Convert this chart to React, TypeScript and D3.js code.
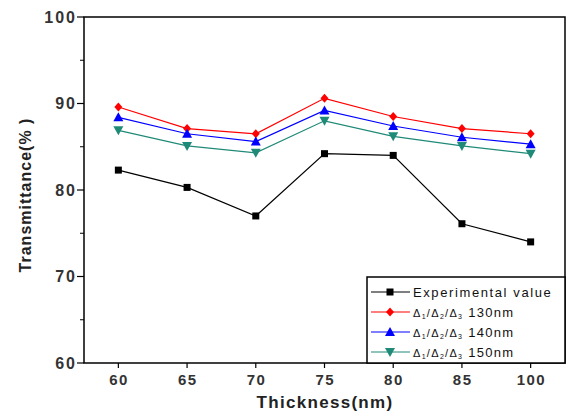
import React from "react";
import * as d3 from "d3";

const categories = ["60", "65", "70", "75", "80", "85", "100"];
const experimental = [82.3, 80.3, 77.0, 84.2, 84.0, 76.1, 74.0];
const d130 = [89.6, 87.1, 86.5, 90.6, 88.5, 87.1, 86.5];
const d140 = [88.4, 86.5, 85.6, 89.2, 87.4, 86.1, 85.3];
const d150 = [86.9, 85.1, 84.3, 88.0, 86.2, 85.1, 84.2];
const yTicks = [60, 70, 80, 90, 100];
const yMinor = [65, 75, 85, 95];

type S = { name: string; sub: string; values: number[]; color: string; marker: string };
const series: S[] = [
  { name: "Experimental value", sub: "", values: experimental, color: "#000000", marker: "square" },
  { name: "130nm", sub: "d", values: d130, color: "#ff0000", marker: "diamond" },
  { name: "140nm", sub: "d", values: d140, color: "#0000ff", marker: "triangle" },
  { name: "150nm", sub: "d", values: d150, color: "#1f8a78", marker: "down" },
];

const W = 571, H = 416;
const L = 84, R = 565, T = 17, B = 363;

function Marker({ type, x, y, color }: { type: string; x: number; y: number; color: string }) {
  if (type === "square") return <rect x={x - 3.5} y={y - 3.5} width={7} height={7} fill={color} />;
  if (type === "diamond")
    return <path d={`M${x},${y - 4.5}L${x + 4},${y}L${x},${y + 4.5}L${x - 4},${y}Z`} fill={color} />;
  if (type === "triangle")
    return <path d={`M${x},${y - 5}L${x + 5},${y + 4}L${x - 5},${y + 4}Z`} fill={color} />;
  return <path d={`M${x},${y + 5}L${x + 5},${y - 4}L${x - 5},${y - 4}Z`} fill={color} />;
}

export default function App() {
  const x = d3.scaleLinear().domain([-0.5, categories.length - 0.5]).range([L, R]);
  const y = d3.scaleLinear().domain([60, 100]).range([B, T]);
  const line = d3.line<number>().x((_, i) => x(i)).y((d) => y(d));
  const font = "Arial, 'Liberation Sans', sans-serif";

  const legX = 367, legY = 277;
  return (
    <svg width={W} height={H} style={{ position: "absolute", left: 0, top: 0, background: "#fff" }} fontFamily={font}>
      <rect x={0} y={0} width={W} height={H} fill="#fff" />
      {series.map((s) => (
        <g key={s.name}>
          <path d={line(s.values) || ""} fill="none" stroke={s.color} strokeWidth={1.2} />
          {s.values.map((v, i) => (
            <Marker key={i} type={s.marker} x={x(i)} y={y(v)} color={s.color} />
          ))}
        </g>
      ))}
      <rect x={L} y={T} width={R - L} height={B - T} fill="none" stroke="#000" strokeWidth={1.5} />
      {yTicks.map((t) => (
        <g key={t}>
          <line x1={L - 7} x2={L} y1={y(t)} y2={y(t)} stroke="#000" strokeWidth={1.2} />
          <text x={L - 7} y={y(t)} dy="0.35em" textAnchor="end" fontSize={16} fontWeight="bold" fill="#333" letterSpacing={2}>
            {t}
          </text>
        </g>
      ))}
      {yMinor.map((t) => (
        <line key={t} x1={L - 4} x2={L} y1={y(t)} y2={y(t)} stroke="#000" strokeWidth={1} />
      ))}
      {categories.map((c, i) => (
        <g key={c}>
          <line x1={x(i)} x2={x(i)} y1={B} y2={B + 5} stroke="#000" strokeWidth={1.2} />
          <text x={x(i) + 0.75} y={B + 22} textAnchor="middle" fontSize={15} fontWeight="bold" fill="#333" letterSpacing={1.5}>
            {c}
          </text>
        </g>
      ))}
      <text x={325} y={408} textAnchor="middle" fontSize={17} fontWeight="bold" fill="#222" letterSpacing={1.3}>
        Thickness(nm)
      </text>
      <text transform={`translate(31,${(T + B) / 2 + 5}) rotate(-90)`} textAnchor="middle" fontSize={16} fontWeight="bold" fill="#222" letterSpacing={1}>
        Transmittance(% )
      </text>
      <rect x={legX} y={legY} width={R - legX} height={B - legY} fill="#fff" stroke="#000" strokeWidth={1.5} />
      {series.map((s, i) => {
        const ly = legY + 15 + i * 20;
        return (
          <g key={s.name}>
            <line x1={371} x2={410} y1={ly} y2={ly} stroke={s.color} strokeWidth={1.2} />
            <Marker type={s.marker} x={390} y={ly} color={s.color} />
            {s.sub ? (
              <text x={413} y={ly + 5} fontSize={13} fill="#111" letterSpacing={1.3}>
                <tspan fontSize={11}>Δ</tspan>
                <tspan fontSize={7} dy={2}>1</tspan>
                <tspan fontSize={11} dy={-2}>/Δ</tspan>
                <tspan fontSize={7} dy={2}>2</tspan>
                <tspan fontSize={11} dy={-2}>/Δ</tspan>
                <tspan fontSize={7} dy={2}>3</tspan>
                <tspan dy={-2}> {s.name}</tspan>
              </text>
            ) : (
              <text x={413} y={ly + 5} fontSize={13} fill="#111" letterSpacing={1.6}>
                {s.name}
              </text>
            )}
          </g>
        );
      })}
    </svg>
  );
}
